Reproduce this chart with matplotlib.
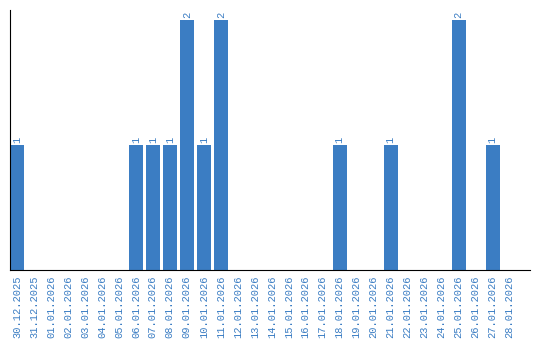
import matplotlib
matplotlib.use("Agg")
import matplotlib.pyplot as plt
import numpy as np

dates = ["30.12.2025", "31.12.2025"] + ["%02d.01.2026" % d for d in range(1, 29)]
counts = [1, 0, 0, 0, 0, 0, 0, 1, 1, 1, 2, 1, 2, 0, 0, 0, 0, 0, 0,
          1, 0, 0, 1, 0, 0, 0, 2, 0, 1, 0]

bar_color = "#3b7dc3"
text_color = "#3b7dc3"

fig = plt.figure(figsize=(5.4, 3.4), dpi=100)
ax = fig.add_axes([10 / 540, 70 / 340, 520 / 540, 260 / 340])

x = np.arange(len(dates))
ax.bar(x, counts, width=0.82, color=bar_color)
for xi, c in zip(x, counts):
    if c > 0:
        ax.text(xi, c + 0.02, str(c), rotation=90, ha="center", va="bottom",
                color=text_color, fontsize=7.5, family="Liberation Mono")

ax.set_xlim(-0.41, 30.2)
ax.set_ylim(0, 2.08)
ax.set_xticks(x)
ax.set_xticklabels(dates, rotation=90, color=text_color, fontsize=7.5,
                   family="Liberation Mono")
ax.tick_params(axis="x", length=0, pad=4)
ax.set_yticks([])
for s in ["top", "right"]:
    ax.spines[s].set_visible(False)
ax.spines["left"].set_color("black")
ax.spines["bottom"].set_color("black")

fig.savefig("out.png", dpi=100)
